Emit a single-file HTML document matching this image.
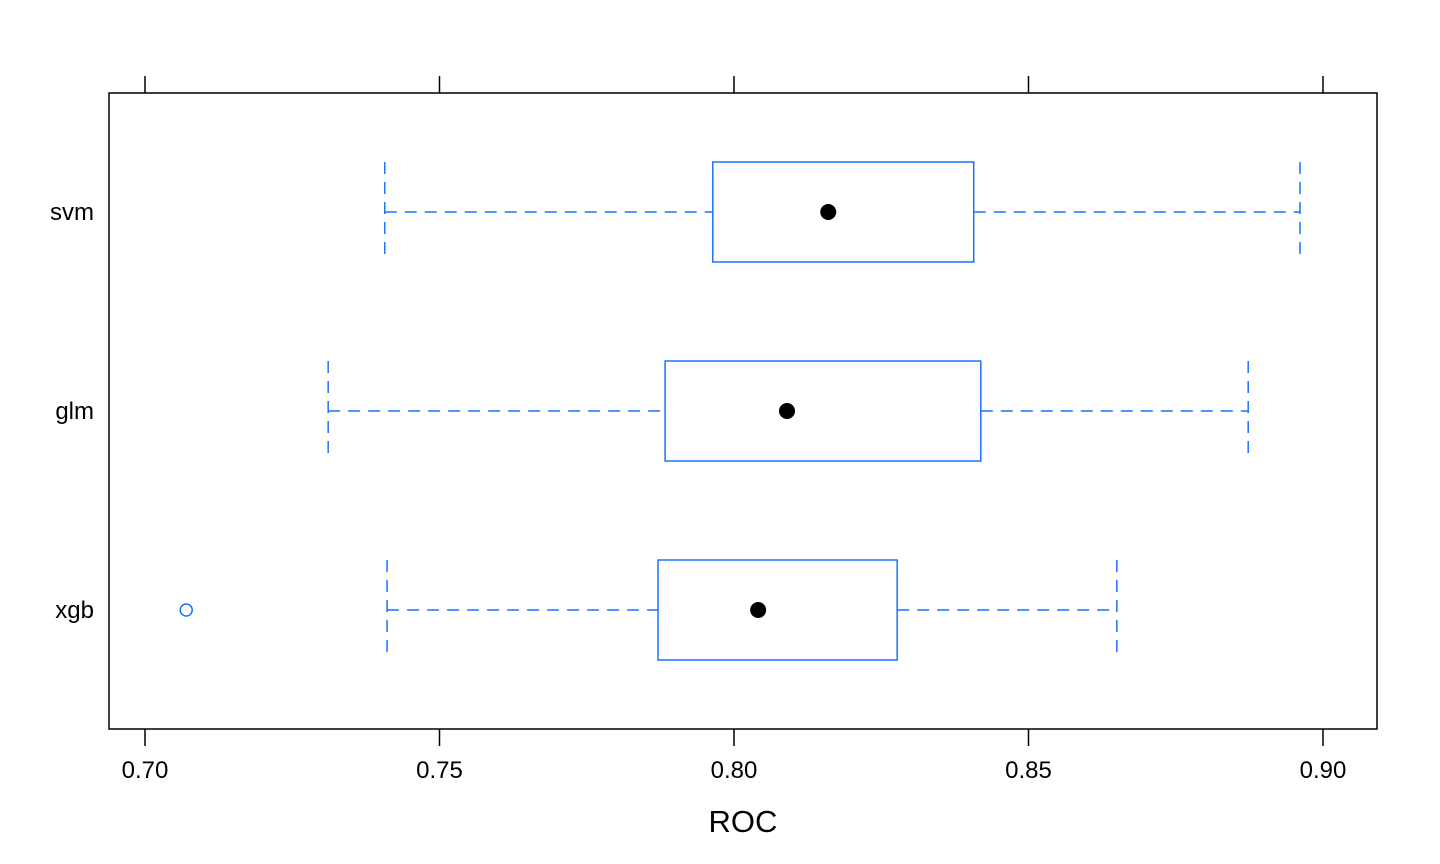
<!DOCTYPE html>
<html><head><meta charset="utf-8"><style>
body{margin:0;background:#fff}
svg{display:block;font-family:"Liberation Sans",Arial,sans-serif}
</style></head><body>
<svg id="chart" width="1440" height="864" viewBox="0 0 1440 864">
<rect x="109" y="93" width="1268" height="636" fill="none" stroke="#000" stroke-width="1.5"/>
<g id="axes"></g>
<g id="marks"></g>
<text x="743" y="832" font-size="31" text-anchor="middle">ROC</text>
</svg>
<script>
const categories = ["svm","glm","xgb"];
const lowWhisker = [0.7407,0.7311,0.7411];
const q1 = [0.7964,0.7883,0.7871];
const medians = [0.8160,0.8090,0.8041];
const q3 = [0.8407,0.8419,0.8277];
const highWhisker = [0.8961,0.8873,0.8650];
const outlierCat = ["xgb"];
const outlierVal = [0.7070];
const tickValues = [0.70,0.75,0.80,0.85,0.90];
const tickLabels = ["0.70","0.75","0.80","0.85","0.90"];

const NS="http://www.w3.org/2000/svg";
const xs = v => 145 + (v-0.70)/0.20*1178;
const ys = i => 212 + i*199;
function mk(tag, attrs, parent){
  const e=document.createElementNS(NS,tag);
  for(const k in attrs) e.setAttribute(k,attrs[k]);
  parent.appendChild(e); return e;
}
const axes=document.getElementById('axes'), marks=document.getElementById('marks');
const blue="#1a73ff";
tickValues.forEach((v,i)=>{
  const x=xs(v);
  let t=mk('line',{x1:x,x2:x,y1:76,y2:93,stroke:'#000','stroke-width':1.5},axes);
  
  
  let b=mk('line',{x1:x,x2:x,y1:729,y2:746,stroke:'#000','stroke-width':1.5},axes);
  
  
  let l=mk('text',{x:x,y:778,'font-size':24,'text-anchor':'middle'},axes);
  l.textContent=tickLabels[i];
  
  
});
categories.forEach((c,i)=>{
  const y=ys(i);
  let l=mk('text',{x:94,y:y+8,'font-size':24,'text-anchor':'end'},axes);
  l.textContent=c;
  
  
  const g=mk('g',{},marks);
  
  
  const dash={stroke:blue,'stroke-width':1.5,'stroke-dasharray':'12,8',fill:'none'};
  mk('line',Object.assign({x1:xs(lowWhisker[i]),x2:xs(q1[i]),y1:y,y2:y},dash),g);
  mk('line',Object.assign({x1:xs(q3[i]),x2:xs(highWhisker[i]),y1:y,y2:y},dash),g);
  mk('line',Object.assign({x1:xs(lowWhisker[i]),x2:xs(lowWhisker[i]),y1:y-50,y2:y+50},dash),g);
  mk('line',Object.assign({x1:xs(highWhisker[i]),x2:xs(highWhisker[i]),y1:y-50,y2:y+50},dash),g);
  mk('rect',{x:xs(q1[i]),y:y-50,width:xs(q3[i])-xs(q1[i]),height:100,fill:'none',stroke:blue,'stroke-width':1.5},g);
  const m=mk('circle',{cx:xs(medians[i]),cy:y,r:8,fill:'#000'},g);
  
  
});
outlierVal.forEach((v,j)=>{
  const o=mk('circle',{cx:xs(v),cy:ys(categories.indexOf(outlierCat[j])),r:6,fill:'none',stroke:blue,'stroke-width':1.5},marks);
  
  
});
</script>
</body></html>
